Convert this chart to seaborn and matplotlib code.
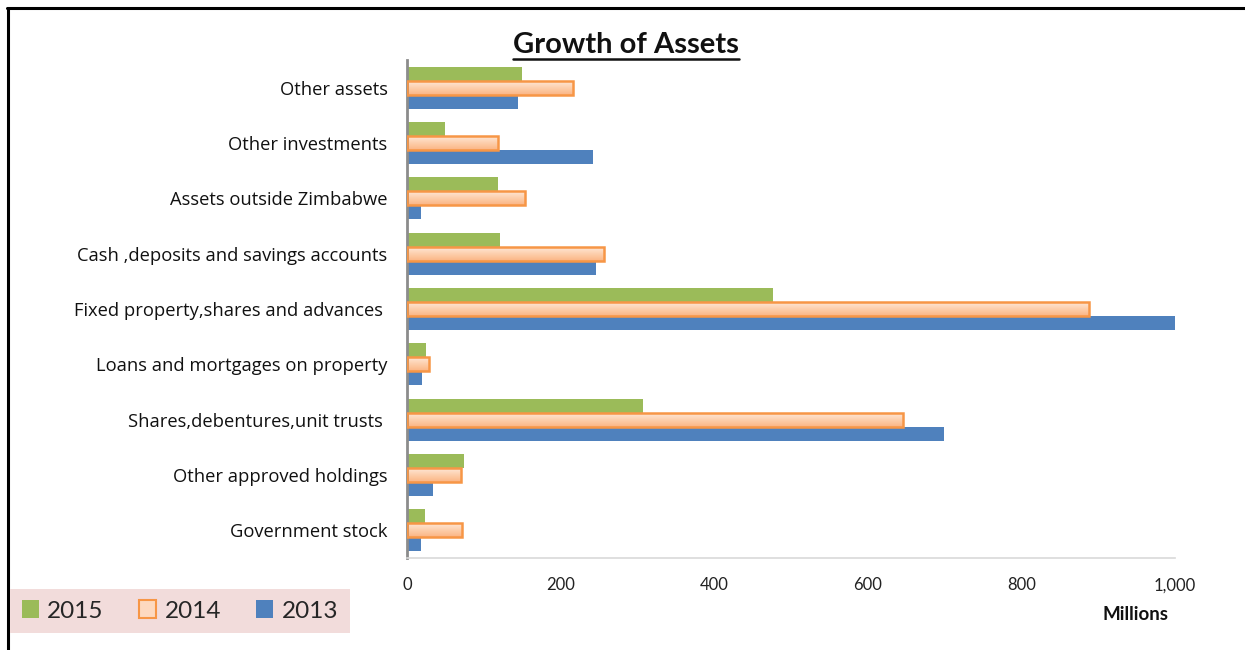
import numpy as np
import pandas as pd
import matplotlib
matplotlib.use("Agg")
import matplotlib.pyplot as plt
from matplotlib.lines import Line2D
import seaborn as sns

categories = [
    "Other assets",
    "Other investments",
    "Assets outside Zimbabwe",
    "Cash ,deposits and savings accounts",
    "Fixed property,shares and advances ",
    "Loans and mortgages on property",
    "Shares,debentures,unit trusts ",
    "Other approved holdings",
    "Government stock",
]
values_2015 = [150, 49, 118, 121, 477, 25, 307, 74, 23]
values_2014 = [216, 118, 154, 256, 888, 29, 646, 70, 72]
values_2013 = [145, 242, 18, 246, 1000, 20, 699, 34, 18]
years = ["2015", "2014", "2013"]
x_ticks = [0, 200, 400, 600, 800, 1000]
x_tick_labels = ["0", "200", "400", "600", "800", "1,000"]

df = pd.DataFrame({
    "category": categories * 3,
    "year": [years[0]] * 9 + [years[1]] * 9 + [years[2]] * 9,
    "value": values_2015 + values_2014 + values_2013,
})

sns.set_theme(style="white")
plt.rcParams["font.family"] = ["Lato", "DejaVu Sans"]

GREEN = "#9BBB59"
ORANGE_EDGE = "#F79646"
PEACH = "#FDD3B5"
BLUE = "#4F81BD"
palette = {"2015": GREEN, "2014": PEACH, "2013": BLUE}

W, H = 1245, 650
fig = plt.figure(figsize=(W / 100, H / 100), dpi=100)
ax = fig.add_axes([407 / W, (H - 558) / H, (1175 - 407) / W, (558 - 60) / H])

sns.barplot(data=df, y="category", x="value", hue="year", hue_order=years,
            order=categories, palette=palette, orient="h", width=0.76,
            saturation=1, ax=ax, legend=False, linewidth=0)

# Style the 2014 bars: orange outline with a vertical peach gradient
gradient = np.linspace(0, 1, 64).reshape(-1, 1)
cmap = matplotlib.colors.LinearSegmentedColormap.from_list(
    "peach", ["#FEEBDD", "#FDD0AE", "#FBB584"])
container_2014 = ax.containers[1]
for bar in container_2014:
    x0, y0 = bar.get_x(), bar.get_y()
    w, h = bar.get_width(), bar.get_height()
    im = ax.imshow(gradient, extent=(x0, x0 + w, y0 + h, y0), cmap=cmap,
                   aspect="auto", zorder=2, interpolation="bilinear")
    im.set_clip_path(bar)
    bar.set_facecolor("none")
    bar.set_edgecolor(ORANGE_EDGE)
    bar.set_linewidth(1.8)
    bar.set_zorder(3)

ax.set_xlim(0, 1000)
ax.set_ylim(len(categories) - 0.5, -0.5)
ax.set_xticks(x_ticks)
ax.set_xticklabels(x_tick_labels, fontsize=12, color="#222222")
ax.tick_params(axis="x", length=0, pad=14)
ax.tick_params(axis="y", length=0, pad=14)
for lbl in ax.get_yticklabels():
    lbl.set_fontfamily(["Open Sans", "DejaVu Sans"])
    lbl.set_fontsize(13.2)
    lbl.set_color("#111111")
ax.set_xlabel("")
ax.set_ylabel("")
for side in ["top", "right"]:
    ax.spines[side].set_visible(False)
ax.spines["left"].set_color("#8C8C8C")
ax.spines["left"].set_linewidth(2)
ax.spines["bottom"].set_color("#D9D9D9")
ax.spines["bottom"].set_linewidth(1.2)
ax.grid(False)

# Axis unit label
fig.text(1135 / W, 1 - 615 / H, "Millions", fontsize=13.5, fontweight="bold",
         ha="center", va="center", color="#111111")

# Underlined title
title = fig.text(626 / W, 1 - 45 / H, "Growth of Assets", fontsize=21,
                 fontweight="bold", ha="center", va="center", color="#111111")
fig.canvas.draw()
bb = title.get_window_extent().transformed(fig.transFigure.inverted())
fig.add_artist(Line2D([bb.x0, bb.x1], [bb.y0 - 0.002, bb.y0 - 0.002],
                      transform=fig.transFigure, color="#111111", linewidth=1.8))

# Legend in a tinted box
handles = [
    plt.Rectangle((0, 0), 1, 1, facecolor=GREEN, edgecolor="none"),
    plt.Rectangle((0, 0), 1, 1, facecolor="#FDD9C0", edgecolor=ORANGE_EDGE, linewidth=1.5),
    plt.Rectangle((0, 0), 1, 1, facecolor=BLUE, edgecolor="none"),
]
leg = fig.legend(handles, years, loc="center",
                 bbox_to_anchor=(180 / W, 1 - 611 / H), ncol=3, fontsize=17.5,
                 frameon=True, fancybox=False, handlelength=0.7, handleheight=0.7,
                 handletextpad=0.35, columnspacing=1.45, borderpad=0.47,
                 borderaxespad=0)
leg.get_frame().set_facecolor("#F2DCDB")
leg.get_frame().set_edgecolor("none")
leg.get_frame().set_alpha(1)

# Outer frame lines
fig.add_artist(Line2D([8 / W, 8 / W], [0, 1 - 8 / H], transform=fig.transFigure,
                      color="black", linewidth=2.2))
fig.add_artist(Line2D([7 / W, 1], [1 - 8 / H, 1 - 8 / H], transform=fig.transFigure,
                      color="black", linewidth=2.2))

fig.savefig("out.png", dpi=100)
